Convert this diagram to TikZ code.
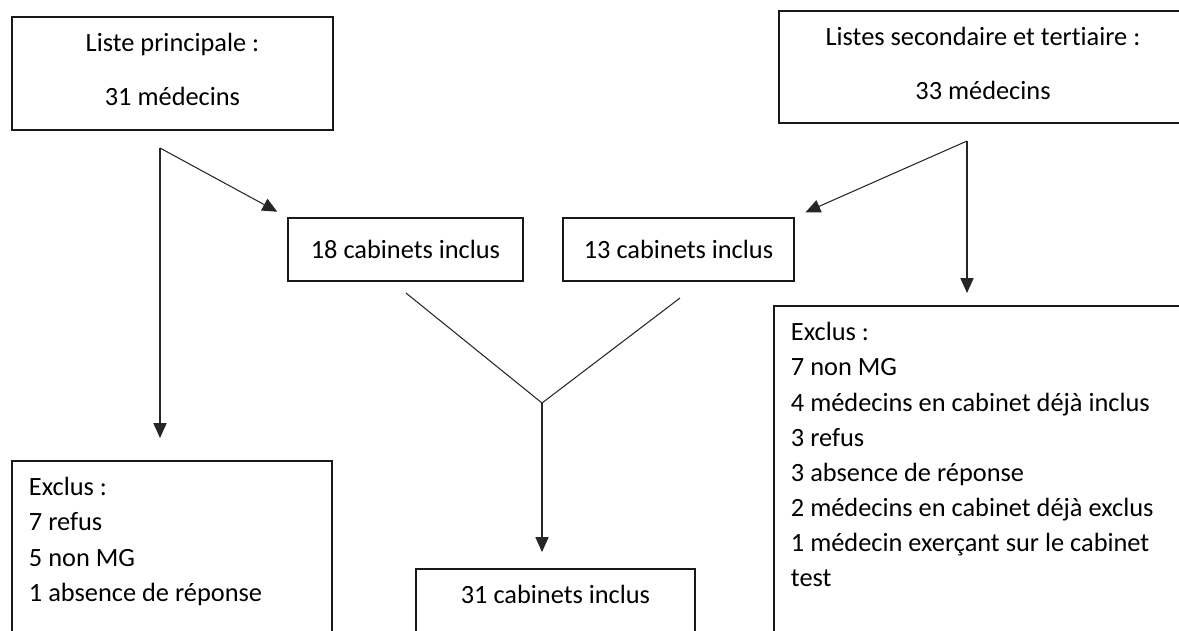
\documentclass[tikz,border=0pt]{standalone}
\usepackage{fontspec}
\setmainfont{Carlito}[Ligatures=NoCommon]
\usetikzlibrary{arrows.meta}

\begin{document}
\begin{tikzpicture}

\tikzstyle{box}=[rectangle, draw=black!90, line width=1.1pt, anchor=north west, inner sep=0pt, font=\fontsize{15pt}{20pt}\selectfont]
\tikzstyle{listbox}=[box, inner xsep=0.34cm, inner ysep=0.33cm]
\tikzstyle{arrow}=[-{Triangle[length=8.5pt,width=7.5pt]}, draw=black!85, line width=0.6pt]
\tikzstyle{line}=[draw=black!85, line width=0.6pt]

\useasboundingbox (0,0) rectangle (23.58,-12.6);
\clip (0,0) rectangle (23.58,-12.6);

% source lists
\node (main) [listbox] at (0.22,-0.32) {\parbox[t][1.60cm][t]{5.74cm}{\centering Liste principale :\\[10.5pt]31 médecins}};
\node (other) [listbox] at (15.56,-0.20) {\parbox[t][1.58cm][t]{7.48cm}{\centering Listes secondaire et tertiaire :\\[10.5pt]33 médecins}};

% included
\node (inc18) [box, minimum width=4.70cm, minimum height=1.26cm] at (5.74,-4.34) {18 cabinets inclus};
\node (inc13) [box, minimum width=4.62cm, minimum height=1.26cm] at (11.24,-4.34) {13 cabinets inclus};
\node (total) [listbox] at (8.30,-11.36) {\parbox[t][2cm][t]{4.90cm}{\centering 31 cabinets inclus}};

% excluded
\node (exclL) [listbox] at (0.22,-9.20) {\parbox[t][4cm][t]{5.72cm}{Exclus :\\7 refus\\5 non MG\\1 absence de réponse}};
\node (exclR) [listbox] at (15.46,-6.10) {\parbox[t][7cm][t]{8cm}{Exclus :\\7 non MG\\4 médecins en cabinet déjà inclus\\3 refus\\3 absence de réponse\\2 médecins en cabinet déjà exclus\\1 médecin exerçant sur le cabinet\\test}};

\coordinate (mainfork) at (3.20,-2.96);
\coordinate (otherfork) at (19.34,-2.82);
\coordinate (from18) at (8.12,-5.86);
\coordinate (from13) at (13.60,-5.96);
\coordinate (join) at (10.84,-8.06);

\draw [arrow, shorten >=0.22cm] (mainfork) -- (inc18.north west);
\draw [arrow, shorten >=0.44cm] (mainfork) -- (mainfork |- exclL.north);
\draw [arrow, shorten >=0.23cm] (otherfork) -- (inc13.north east);
\draw [arrow, shorten >=0.24cm] (otherfork) -- (otherfork |- exclR.north);
\draw [line] (from18) -- (join) -- (from13);
\draw [arrow, shorten >=0.32cm] (join) -- (join |- total.north);

\end{tikzpicture}
\end{document}
